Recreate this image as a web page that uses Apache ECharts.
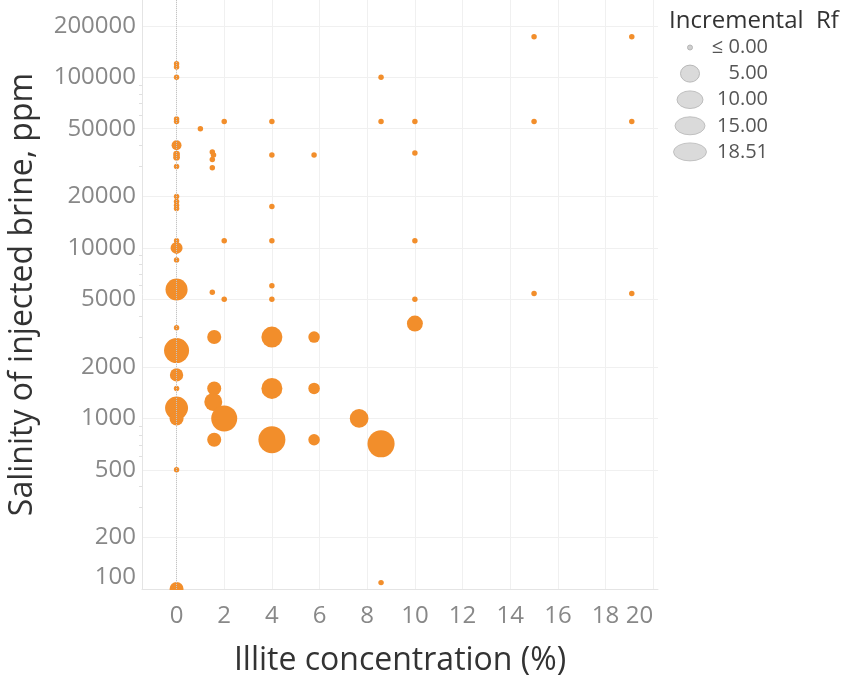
<!DOCTYPE html>
<html><head><meta charset="utf-8">
<script src="https://cdn.jsdelivr.net/npm/echarts@6/dist/echarts.min.js"></script>
<style>html,body{margin:0;padding:0;background:#fff}#c{width:846px;height:676px}</style>
</head><body><div id="c"></div>
<script>
// Illite concentration (%)
const illite = [
  0, 0, 0, 0, 0, 0, 0, 0, 0, 0, 0, 0, 0, 0, 0, 0, 0, 0, 0, 0, 0, 0, 0, 0, 0,
  1,
  1.5, 1.55, 1.5, 1.5, 1.5, 1.58, 1.58, 1.54, 1.58,
  2, 2, 2, 2,
  4, 4, 4, 4, 4, 4, 4, 4, 4,
  5.77, 5.77, 5.77, 5.77,
  7.66,
  8.58, 8.58, 8.58, 8.58,
  10, 10, 10, 10, 10,
  15, 15, 15,
  19.1, 19.1, 19.1
];
// Salinity of injected brine, ppm
const salinity = [
  120000, 115000, 100000, 57000, 55000, 40000, 35500, 34000, 30000, 20000, 18700, 17800, 17000, 11000, 10000, 8500, 5700, 3400, 2500, 1800, 1500, 1150, 1000, 500, 100,
  50000,
  36500, 35000, 33000, 29500, 5500, 3000, 1500, 1250, 750,
  55000, 11000, 5000, 1000,
  55000, 35000, 17500, 11000, 6000, 5000, 3000, 1500, 750,
  35000, 3000, 1500, 750,
  1000,
  100000, 55000, 710, 109,
  55000, 36000, 11000, 5000, 3600,
  173000, 55000, 5400,
  173000, 55000, 5400
];
// Incremental Rf
const rf = [
  0, 0, 0, 0, 0, 1.8, 0.4, 0.4, 0, 0, 0, 0, 0, 0, 3.0, 0, 12, 0, 15.7, 3.9, 0, 13.1, 4.4, 0, 4.4,
  0,
  0, 0, 0, 0, 0, 4.4, 4.4, 7.7, 4.4,
  0, 0, 0, 17,
  0, 0, 0, 0, 0, 0, 10.8, 10.8, 18.4,
  0, 2.7, 2.7, 2.7,
  8.4,
  0, 0, 18.51, 0,
  0, 0, 0, 0, 5.9,
  0, 0, 0,
  0, 0, 0
];
const xTicks = [0, 2, 4, 6, 8, 10, 12, 14, 16, 18, 20];
const yTicks = [100, 200, 500, 1000, 2000, 5000, 10000, 20000, 50000, 100000, 200000];
const yMinorTicks = [
  300, 400, 600, 700, 800, 900,
  3000, 4000, 6000, 7000, 8000, 9000,
  30000, 40000, 60000, 70000, 80000, 90000,
  300000
];
const legendTitle = 'Incremental  Rf';
const legendLabels = ['\u2264 0.00', '5.00', '10.00', '15.00', '18.51'];

const FONT = 'Open Sans';
const sizeOf = v => Math.sqrt(30 + 38 * Math.max(v, 0));
const points = illite.map((x, i) => [x, Math.log10(salinity[i]), rf[i]]);
const yMin = 2, yMax = Math.log10(284000);

// legend glyph sizes (rx, ry) in px
const legendGlyph = [[2.5, 2.5], [9.5, 8.5], [13, 8.8], [15, 9], [16.5, 9]];
const graphic = [
  // mask below the plotting area so marks on the bottom edge are cut like the reference
  { type: 'rect', x: 143, y: 590, z: 50, silent: true, shape: { width: 520, height: 12 }, style: { fill: '#fff' } },
  {
    type: 'text', x: 669, y: 9,
    style: { text: legendTitle, fontSize: 24, fontFamily: FONT, fill: '#333', fontWeight: 500 }
  }
];
legendLabels.forEach((lab, i) => {
  const cy = 47.5 + i * 26.1;
  const [rx, ry] = legendGlyph[i];
  graphic.push({
    type: 'circle', x: 690, y: cy, scaleY: ry / rx,
    shape: { cx: 0, cy: 0, r: rx },
    style: { fill: i === 0 ? '#cfcfcf' : '#dadada', stroke: '#b5b5b5', lineWidth: 1 }
  });
  graphic.push({
    type: 'text', x: 768, y: cy,
    style: { text: lab, fontSize: 20, fontFamily: FONT, fill: '#555', align: 'right', verticalAlign: 'middle' }
  });
});

const chart = echarts.init(document.getElementById('c'), null, { renderer: 'canvas' });
chart.setOption({
  animation: false,
  backgroundColor: '#fff',
  grid: { left: 142, right: 188, top: 0, bottom: 87, containLabel: false, outerBoundsMode: 'none' },
  xAxis: {
    type: 'value', min: -1.45, max: 20.2,
    name: 'Illite concentration (%)', nameLocation: 'middle', nameGap: 56,
    nameTextStyle: { fontSize: 32, color: '#333', fontFamily: FONT },
    axisLine: { show: true, onZero: false, lineStyle: { color: '#e4e4e4' } },
    axisTick: { show: false, customValues: xTicks },
    axisLabel: { customValues: xTicks, fontSize: 24, color: '#888', fontFamily: FONT, margin: 15, alignMaxLabel: 'right' },
    splitLine: { show: true, lineStyle: { color: '#f0f0f0', width: 1 } }
  },
  yAxis: [{
    type: 'value', min: yMin, max: yMax,
    name: 'Salinity of injected brine, ppm', nameLocation: 'middle', nameGap: 103,
    nameTextStyle: { fontSize: 32, color: '#333', fontFamily: FONT },
    axisLine: { show: true, onZero: false, lineStyle: { color: '#e4e4e4' } },
    axisTick: { show: false, customValues: yTicks.map(v => Math.log10(v)) },
    axisLabel: {
      customValues: yTicks.map(v => Math.log10(v)), fontSize: 24, color: '#888', fontFamily: FONT, margin: 6,
      verticalAlignMinLabel: 'bottom',
      formatter: v => String(Math.round(Math.pow(10, v)))
    },
    splitLine: { show: true, lineStyle: { color: '#f0f0f0', width: 1 } }
  }, {
    // minor log ticks on the left edge
    type: 'value', min: yMin, max: yMax, position: 'left', offset: 0,
    axisLine: { show: false, onZero: false },
    axisTick: { show: true, length: 3, customValues: yMinorTicks.map(v => Math.log10(v)), lineStyle: { color: '#e0e0e0' } },
    axisLabel: { show: false, customValues: yMinorTicks.map(v => Math.log10(v)) },
    splitLine: { show: false }
  }],
  series: [{
    type: 'scatter',
    data: points,
    clip: true,
    symbolSize: v => sizeOf(v[2]),
    itemStyle: { color: '#f28e2b', opacity: 1 },
    markLine: {
      silent: true, symbol: 'none', label: { show: false },
      lineStyle: { type: 'dotted', color: '#c4c4c4', width: 1 },
      data: [{ xAxis: 0 }]
    }
  }],
  graphic: graphic
});
</script></body></html>
